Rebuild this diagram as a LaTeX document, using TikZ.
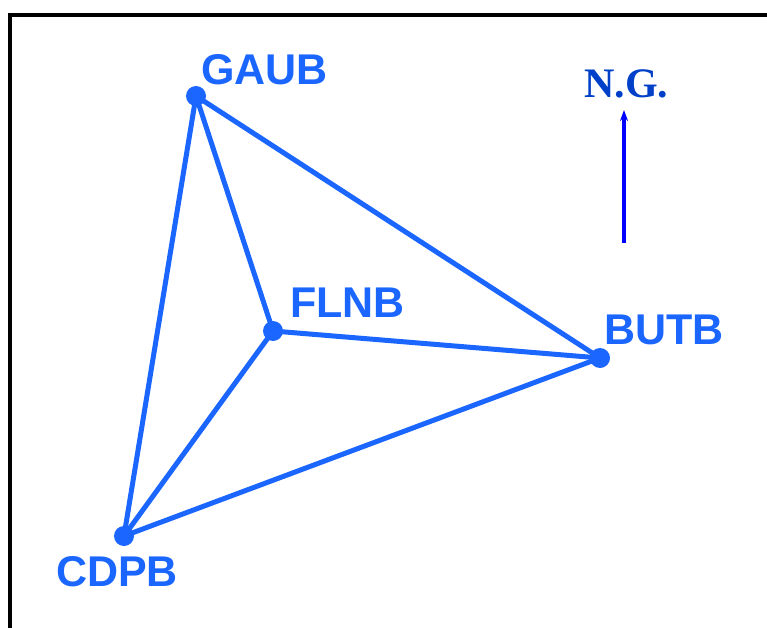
\documentclass[tikz,border=0pt]{standalone}
\usepackage{fontspec}
\setmainfont{Liberation Serif}
\setsansfont{Liberation Sans}
\usetikzlibrary{arrows.meta,positioning}
\definecolor{netblue}{HTML}{1A66FF}
\definecolor{ngblue}{HTML}{0040C8}
\definecolor{arrowblue}{HTML}{0000FF}
\tikzset{
  stationdot/.style={
    circle, fill=#1, inner sep=0pt, minimum size=20pt
  },
  stationdot/.default=netblue,
  stationlabel/.style={
    anchor=base west, inner sep=0pt, color=netblue,
    font=\fontsize{43}{43}\selectfont\sffamily\bfseries
  },
  baseline/.style={
    line width=5pt, color=#1, line cap=round
  },
  baseline/.default=netblue,
}

\begin{document}
\begin{tikzpicture}[x=1pt,y=-1pt]
  \useasboundingbox (0,0) rectangle (767,628);
  % Frame
  \draw[line width=4pt] (10,628) -- (10,15) -- (767,15);

  % Stations
  \node[stationdot] (gaub) at (196,96) {};
  \node[stationdot] (flnb) at (273,331) {};
  \node[stationdot] (butb) at (600,358) {};
  \node[stationdot] (cdpb) at (124,536) {};

  % Baselines
  \draw[baseline] (gaub.center) -- (butb.center) -- (cdpb.center) -- cycle;
  \draw[baseline] (flnb.center) -- (gaub.center);
  \draw[baseline] (flnb.center) -- (butb.center);
  \draw[baseline] (flnb.center) -- (cdpb.center);

  % Labels
  \node[stationlabel] (gaublab) at (201,85) {GAUB};
  \node[stationlabel] (flnblab) at (290,317) {FLNB};
  \node[stationlabel] (butblab) at (604,344) {BUTB};
  \node[stationlabel] (cdpblab) at (56,586) {CDPB};

  % North arrow
  \node[anchor=base west, inner sep=0pt, color=ngblue,
    font=\fontsize{42}{42}\selectfont\rmfamily\bfseries] (ng) at (584,98) {N.G.};
  \coordinate (ngfoot) at (624,243);
  \draw[-{Stealth[length=11pt,width=8pt]}, line width=4pt, color=arrowblue]
    (ngfoot) -- (ngfoot |- 0,110);
\end{tikzpicture}
\end{document}
